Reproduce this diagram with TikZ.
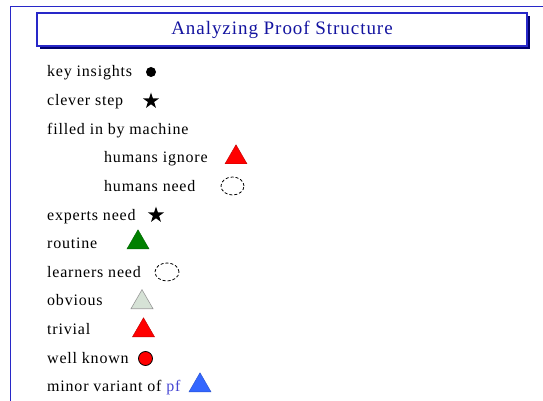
\documentclass[tikz,border=0pt]{standalone}
\usepackage{fontspec}
\setmainfont{Liberation Serif}[LetterSpace=5]
\usepackage{xcolor}
\usetikzlibrary{shapes.geometric, shadows}

\definecolor{framecol}{RGB}{40,40,200}
\definecolor{titlecol}{RGB}{20,20,160}
\definecolor{shadowcol}{RGB}{0,0,110}
\definecolor{pfblue}{RGB}{70,70,210}
\definecolor{routinegreen}{RGB}{0,128,0}
\definecolor{obviousgray}{RGB}{214,226,214}
\definecolor{variantblue}{RGB}{51,102,255}

\begin{document}
\begin{tikzpicture}[x=1pt,y=-1pt,font=\fontsize{16}{18}\selectfont,
  item/.style={anchor=base west,inner sep=0pt},
  tri/.style={regular polygon,regular polygon sides=3,minimum size=25.4pt,inner sep=0pt,anchor=south},
  dot/.style={circle,inner sep=0pt},
  starsym/.style={star,star points=5,star point ratio=2.6,minimum size=17pt,inner sep=0pt,fill=black},
  gap/.style={ellipse,draw=black,densely dashed,line width=0.8pt,inner sep=0pt}]
\useasboundingbox (0,0) rectangle (543,401);

% frame of the slide
\draw[framecol,line width=1.2pt] (10.5,401) -- (10.5,6.5) -- (543,6.5);

% title
\node[draw=framecol,line width=2pt,fill=white,minimum width=490pt,minimum height=33pt,
  drop shadow={shadow xshift=3pt,shadow yshift=-3pt,fill=shadowcol,opacity=1},
  text=titlecol,font=\fontsize{19}{22}\selectfont] (title) at (282,29.5) {Analyzing Proof Structure};

% list of labels
\foreach \xx/\txt [count=\i from 0] in {47/key insights,47/clever step,47/filled in by machine,
    104/humans ignore,104/humans need,47/experts need,47/routine,47/learners need,
    47/obvious,47/trivial,47/well known,47/{minor variant of \textcolor{pfblue}{pf}}}
  \node[item] (lbl\i) at (\xx,77+28.6*\i) {\txt};

% markers
\node[dot,fill=black,minimum size=10pt] (keydot) at (151,72) {};
\node[starsym] (cleverstar) at (151,101) {};
\node[tri,fill=red,draw=red!75!black,line width=0.4pt] (ignoretri) at (236,164) {};
\node[gap,minimum width=23pt,minimum height=18pt] (needgap) at (232.5,186) {};
\node[starsym] (expertstar) at (156,215) {};
\node[tri,fill=routinegreen,draw=routinegreen!80!black,line width=0.4pt] (routinetri) at (138,249) {};
\node[gap,minimum width=24pt,minimum height=18pt] (learngap) at (167,272) {};
\node[tri,fill=obviousgray,draw=gray!80,line width=0.6pt] (obvioustri) at (142,309) {};
\node[tri,fill=red,draw=red!75!black,line width=0.4pt] (trivialtri) at (143.5,337) {};
\node[dot,fill=red,draw=black,line width=0.8pt,minimum size=14pt] (knowndot) at (145.5,358.5) {};
\node[tri,fill=variantblue,draw=variantblue!80!black,line width=0.4pt] (varianttri) at (200,392) {};
\end{tikzpicture}
\end{document}
